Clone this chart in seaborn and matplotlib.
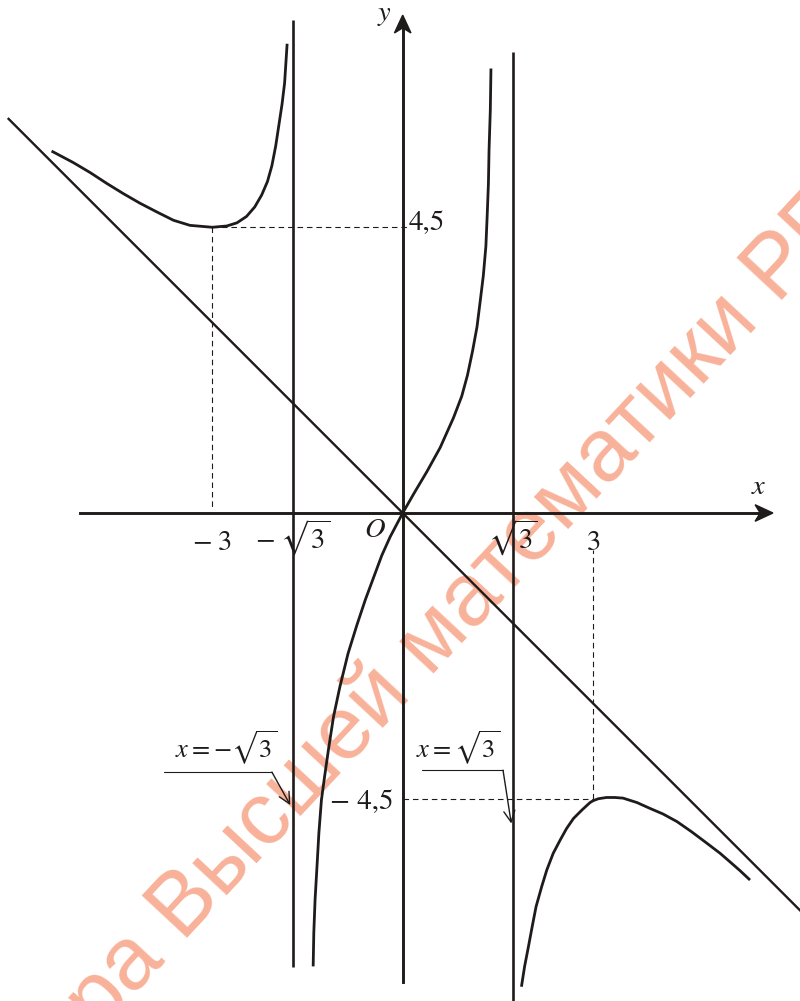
import numpy as np
import pandas as pd
import matplotlib
matplotlib.use("Agg")
import matplotlib.pyplot as plt
from matplotlib.patches import Polygon
import seaborn as sns

# ---- curve samples: y = x^3 / (3 - x^2), sketched by branch ----
left_x = [-5.53, -5.19, -4.92, -4.66, -4.40, -4.14, -3.87, -3.61, -3.35, -3.00,
          -2.77, -2.61, -2.46, -2.33, -2.22, -2.13, -2.06, -2.00, -1.95, -1.90,
          -1.86, -1.84, -1.82]
left_y = [5.70, 5.52, 5.36, 5.19, 5.03, 4.88, 4.74, 4.61, 4.53, 4.50,
          4.52, 4.57, 4.67, 4.82, 5.01, 5.22, 5.47, 5.78, 6.11, 6.44,
          6.77, 7.08, 7.39]

mid_x = [-1.41, -1.40, -1.38, -1.35, -1.32, -1.28, -1.23, -1.17, -1.09, -0.99,
         -0.86, -0.72, -0.59, -0.46, -0.33, -0.20, 0.00,
         0.19, 0.38, 0.59, 0.80, 0.93, 1.02, 1.10, 1.17, 1.22, 1.27, 1.31,
         1.33, 1.35, 1.36, 1.38, 1.39]
mid_y = [-7.14, -6.61, -6.09, -5.57, -5.04, -4.52, -4.15, -3.73, -3.21, -2.74,
         -2.21, -1.76, -1.37, -1.02, -0.67, -0.38, 0.00,
         0.33, 0.65, 1.03, 1.50, 1.84, 2.17, 2.55, 2.93, 3.33, 3.74, 4.20,
         4.67, 5.19, 5.72, 6.35, 7.00]

right_x = [1.87, 1.92, 1.98, 2.04, 2.10, 2.19, 2.27, 2.37, 2.48, 2.58, 2.69,
           2.82, 2.95, 3.00, 3.08, 3.21, 3.34, 3.47, 3.69, 3.89, 4.10, 4.32,
           4.55, 4.79, 5.00, 5.15, 5.31, 5.47]
right_y = [-7.46, -7.14, -6.83, -6.51, -6.20, -5.88, -5.62, -5.36, -5.15, -4.97,
           -4.81, -4.68, -4.56, -4.53, -4.50, -4.48, -4.48, -4.49, -4.56, -4.65,
           -4.74, -4.86, -5.02, -5.20, -5.36, -5.49, -5.63, -5.78]

# vertical asymptotes x = ±√3 and the oblique asymptote y = -x
asym_x = [-np.sqrt(3), np.sqrt(3)]
asym_bottom = [-7.15, -7.90]
asym_top = [7.76, 7.26]
oblique_x = np.array([-6.22, 6.40])
oblique_slope = -1.0

# extremum points (-3, 4.5) and (3, -4.5)
ext_x = [-3.0, 3.0]
ext_y = [4.5, -4.5]

x_ticks = [-3, -2, -1, 1, 2, 3]
y_ticks = [-5, -4, -3, -2, -1, 1, 2, 3, 4, 5]

ink = "#1f1b1b"
stamp = "#F8B29A"

sns.set_theme(style="white")
plt.rcParams["mathtext.fontset"] = "stix"
plt.rcParams["font.family"] = ["DejaVu Sans"]

fig = plt.figure(figsize=(8.0, 10.01), dpi=100)
ax = fig.add_axes([0, 0, 1, 1])
ax.set_xlim(-6.342, 6.257)
ax.set_ylim(-7.685, 8.079)
ax.patch.set_visible(False)
ax.grid(False)

# watermark underneath the drawing
fig.text(384 / 800, 1 - 693 / 1001, "Кафедра Высшей математики РГУ",
         rotation=47, rotation_mode="anchor", ha="center", va="center",
         fontsize=64, family="Liberation Sans", color=stamp, zorder=-1)

# coordinate axes through the origin
for side in ("top", "right"):
    ax.spines[side].set_visible(False)
ax.spines["bottom"].set_position(("data", 0))
ax.spines["left"].set_position(("data", 0))
ax.spines["bottom"].set_bounds(-5.08, 5.66)
ax.spines["left"].set_bounds(-7.39, 7.66)
for side in ("bottom", "left"):
    ax.spines[side].set_color(ink)
    ax.spines[side].set_linewidth(2.1)
    ax.spines[side].set_zorder(3)
ax.set_xticks(x_ticks)
ax.set_yticks(y_ticks)
ax.tick_params(axis="x", direction="inout", length=8, width=1.7, color=ink,
               labelbottom=False)
ax.tick_params(axis="y", direction="inout", length=10, width=1.7, color=ink,
               labelleft=False)

# notched arrowheads at the positive ends of the axes
head_len, head_half, notch = 0.28, 0.13, 0.20
x_tip, y_tip = 5.83, 7.84
ax.add_patch(Polygon([(x_tip, 0), (x_tip - head_len, head_half),
                      (x_tip - notch, 0), (x_tip - head_len, -head_half)],
                     closed=True, color=ink, zorder=5))
ax.add_patch(Polygon([(0, y_tip), (-head_half, y_tip - head_len),
                      (0, y_tip - notch), (head_half, y_tip - head_len)],
                     closed=True, color=ink, zorder=5))

# asymptotes
ax.vlines(asym_x, asym_bottom, asym_top, color=ink, lw=1.9, zorder=3)
sns.lineplot(x=oblique_x, y=oblique_slope * oblique_x, color=ink, lw=1.7,
             ax=ax, zorder=3)

# graph branches
branches = pd.concat([
    pd.DataFrame({"x": left_x, "y": left_y, "branch": "left"}),
    pd.DataFrame({"x": mid_x, "y": mid_y, "branch": "middle"}),
    pd.DataFrame({"x": right_x, "y": right_y, "branch": "right"}),
], ignore_index=True)
sns.lineplot(data=branches, x="x", y="y", units="branch", estimator=None,
             sort=False, color=ink, lw=2.0, ax=ax, zorder=4)
for ln in ax.lines:
    ln.set_solid_joinstyle("round")
    ln.set_solid_capstyle("butt")

# dashed guides to the extrema
dash = dict(color=ink, lw=0.8, ls=(0, (5, 3.5)), zorder=2)
ax.plot([ext_x[0], 0.1], [ext_y[0], ext_y[0]], **dash)
ax.plot([ext_x[0], ext_x[0]], [ext_y[0], 0.09], **dash)
ax.plot([0.0, ext_x[1]], [ext_y[1], ext_y[1]], **dash)
ax.plot([ext_x[1], ext_x[1]], [ext_y[1], -0.58], **dash)

# labels
fs = 20.5
ax.text(ext_x[0], -0.24, r"$-\;3$", ha="center", va="top", fontsize=fs, color=ink)
ax.text(ext_x[1], -0.24, r"$3$", ha="center", va="top", fontsize=fs, color=ink)
ax.text(asym_x[0], -0.08, r"$-\;\sqrt{3}$", ha="center", va="top", fontsize=fs,
        color=ink)
ax.text(asym_x[1], -0.08, r"$\sqrt{3}$", ha="center", va="top", fontsize=fs,
        color=ink)
ax.text(-0.44, -0.25, r"$O$", ha="center", va="center", fontsize=fs, color=ink)
ax.text(5.61, 0.43, r"$x$", ha="center", va="center", fontsize=fs, color=ink)
ax.text(-0.29, 7.86, r"$y$", ha="center", va="center", fontsize=fs, color=ink)
ax.text(0.10, 4.457, "4,5", ha="left", va="baseline", fontsize=21,
        family="STIXGeneral", color=ink)
ax.text(-0.14, -4.66, "\u2212 4,5", ha="right", va="baseline", fontsize=21,
        family="STIXGeneral", color=ink)

# call-outs naming the vertical asymptotes
fs_call = 19
ax.text(-3.59, -3.87, r"$x=-\sqrt{3}$", ha="left", va="baseline",
        fontsize=fs_call, color=ink)
ax.text(0.21, -3.87, r"$x=\sqrt{3}$", ha="left", va="baseline",
        fontsize=fs_call, color=ink)
lead = dict(color=ink, lw=0.8, zorder=5)
pointer = dict(arrowstyle="->,head_length=0.5,head_width=0.25", color=ink,
               lw=1.0, mutation_scale=16, shrinkA=0, shrinkB=0)
ax.plot([-3.76, -2.06], [-4.08, -4.08], **lead)
ax.annotate("", xy=(-1.77, -4.60), xytext=(-2.06, -4.08), arrowprops=pointer,
            zorder=5)
ax.plot([0.30, 1.58], [-4.05, -4.05], **lead)
ax.annotate("", xy=(1.71, -4.89), xytext=(1.58, -4.05), arrowprops=pointer,
            zorder=5)

fig.savefig("out.png", dpi=100)
